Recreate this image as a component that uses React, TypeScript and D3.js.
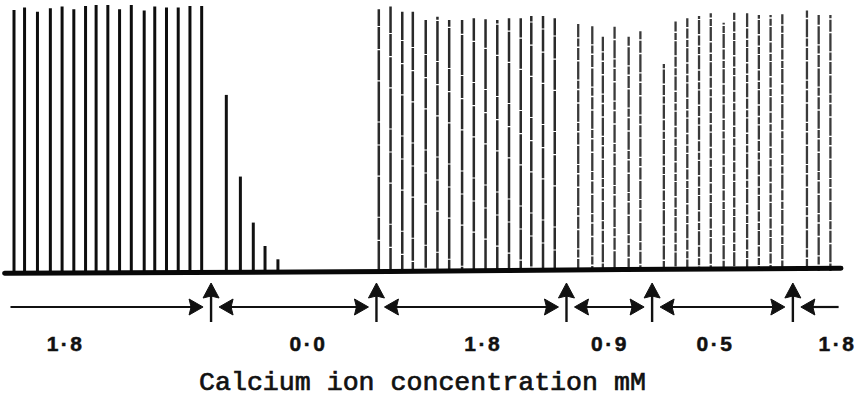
import React from 'react';
import * as d3 from 'd3';

const W = 862;
const H = 401;

// Calcium concentration (mM) of the bathing solution in each period
const periodConc = ['1·8', '0·0', '1·8', '0·9', '0·5', '1·8'];
// Times (s) at which the bathing solution was changed
const changeTimes = [168, 309, 471, 544, 664];
// Where each concentration label sits along the record (s)
const labelTimes = [44, 251, 400, 508, 598, 702];

// Stimulus times (s) and twitch amplitudes (% of maximal tension)
const timesA = [0, 9, 20, 31, 41, 51, 61, 70, 80, 90, 100, 111, 120, 130, 140, 150, 160];
const ampA = [98.1, 99.1, 97.5, 98.8, 99.4, 98.4, 99.6, 100, 100, 98.4, 100, 97.9, 99.4, 99.1, 99.1, 99.6, 99.6];

const timesB = [181, 193, 204, 214, 225];
const ampB = [66.2, 35.5, 18.2, 9.4, 4.4];

const timesC = [311, 321, 331, 340, 351, 361, 371, 382, 392, 402, 412, 422, 432, 441, 451, 461];
const ampC = [98.4, 99.4, 97.5, 97.5, 94.4, 95.6, 94.4, 94.4, 95.0, 94.6, 94.4, 95.0, 95.0, 95.9, 95.9, 95.0];

const timesD = [481, 493, 502, 512, 524, 534];
const ampD = [92.9, 92.1, 88.1, 92.1, 88.1, 90.3];

const timesE = [554, 564, 574, 584, 594, 605, 614, 625, 635, 645, 655];
const ampE = [77.8, 94.1, 95.0, 95.9, 96.9, 93.3, 97.1, 96.9, 96.2, 96.2, 96.6];

const timesF = [676, 686, 696];
const ampF = [97.9, 96.2, 96.2];

// Slow drift of the resting tension trace (% units) along the record
const driftTimes = [-8, 150, 320, 520, 705];
const driftValues = [-0.8, -0.6, -0.2, 0.6, 1.0];

// Extent of the period arrows (s)
const recordStart = -3;
const recordEnd = 703;

type Series = { times: number[]; amps: number[]; width: number; color: string; dash?: string };

const series: Series[] = [
  { times: timesA, amps: ampA, width: 3, color: '#0d0d0d' },
  { times: timesB, amps: ampB, width: 3, color: '#111' },
  { times: timesC, amps: ampC, width: 2.5, color: '#2a2a2a', dash: '30 1.2 22 1 40 1.2' },
  { times: timesD, amps: ampD, width: 2.3, color: '#3a3a3a', dash: '12 1.5 8 1.2 18 1.5' },
  { times: timesE, amps: ampE, width: 2.3, color: '#3a3a3a', dash: '10 1.5 14 1.2 7 1.5' },
  { times: timesF, amps: ampF, width: 2.3, color: '#3a3a3a', dash: '12 1.5 8 1.2 18 1.5' },
];

export default function App() {
  const x = d3.scaleLinear().domain([0, 700]).range([14, 835.1]);
  const y = d3.scaleLinear().domain([0, 100]).range([271, 5]);

  const drift = d3
    .line<number>()
    .x((_, i) => x(driftTimes[i]))
    .y((v) => y(v))
    .curve(d3.curveMonotoneX);

  const arrowY = 307;
  const shaftTop = 283;
  const shaftBottom = 322;
  const headLen = 14;
  const headHalf = 8;
  const tipGap = 8;

  // horizontal period segments bounded by the change markers
  const bounds = [recordStart, ...changeTimes, recordEnd];
  const segments = d3.pairs(bounds).map(([a, b], i) => ({
    x0: i === 0 ? x(a) : x(a) + tipGap,
    x1: i === bounds.length - 2 ? x(b) : x(b) - tipGap,
    leftHead: i > 0,
    rightHead: i < bounds.length - 2,
  }));

  const rightHead = (tx: number) =>
    `M${tx},${arrowY} L${tx - headLen},${arrowY - headHalf} L${tx - headLen + 2},${arrowY} L${tx - headLen},${arrowY + headHalf} Z`;
  const leftHead = (tx: number) =>
    `M${tx},${arrowY} L${tx + headLen},${arrowY - headHalf} L${tx + headLen - 2},${arrowY} L${tx + headLen},${arrowY + headHalf} Z`;
  const upHead = (cx: number) =>
    `M${cx},${shaftTop} L${cx - headHalf},${shaftTop + headLen + 1} L${cx},${shaftTop + headLen - 1} L${cx + headHalf},${shaftTop + headLen + 1} Z`;

  return (
    <svg
      width={W}
      height={H}
      viewBox={`0 0 ${W} ${H}`}
      style={{ position: 'absolute', left: 0, top: 0, display: 'block', background: '#fff' }}
    >
      <rect width={W} height={H} fill="#fff" />

      {/* twitch responses */}
      {series.map((s, si) => (
        <g key={si}>
          {s.times.map((t, i) => (
            <line
              key={i}
              x1={x(t)}
              x2={x(t)}
              y1={y(0)}
              y2={y(s.amps[i])}
              stroke={s.color}
              strokeWidth={s.width}
              strokeDasharray={s.dash}
              strokeDashoffset={i * 7}
            />
          ))}
        </g>
      ))}

      {/* resting tension trace */}
      <path d={drift(driftValues) || ''} fill="none" stroke="#080808" strokeWidth={5} strokeLinecap="round" />

      {/* period arrows */}
      {segments.map((s, i) => (
        <g key={i}>
          <line
            x1={s.leftHead ? s.x0 + headLen - 3 : s.x0}
            x2={s.rightHead ? s.x1 - headLen + 3 : s.x1}
            y1={arrowY}
            y2={arrowY}
            stroke="#111"
            strokeWidth={2.2}
          />
          {s.rightHead && <path d={rightHead(s.x1)} fill="#111" stroke="#111" strokeWidth={1} strokeLinejoin="round" />}
          {s.leftHead && <path d={leftHead(s.x0)} fill="#111" stroke="#111" strokeWidth={1} strokeLinejoin="round" />}
        </g>
      ))}

      {/* solution change markers */}
      {changeTimes.map((t, i) => (
        <g key={i}>
          <line x1={x(t)} x2={x(t)} y1={shaftTop + 8} y2={shaftBottom} stroke="#111" strokeWidth={2.4} />
          <path d={upHead(x(t))} fill="#111" stroke="#111" strokeWidth={1} strokeLinejoin="round" />
        </g>
      ))}

      {/* concentration labels */}
      {periodConc.map((c, i) => (
        <text
          key={i}
          x={x(labelTimes[i])}
          y={351}
          textAnchor="middle"
          fontFamily="'Liberation Sans', Arial, sans-serif"
          fontWeight="bold"
          fontSize={21}
          letterSpacing={2.5}
          fill="#111"
          stroke="#111"
          strokeWidth={0.5}
        >
          {c}
        </text>
      ))}

      <text
        x={199}
        y={390}
        fontFamily="'Liberation Mono', 'Courier New', monospace"
        fontSize={26.6}
        fill="#111"
        stroke="#111"
        strokeWidth={0.7}
      >
        Calcium ion concentration mM
      </text>
    </svg>
  );
}
